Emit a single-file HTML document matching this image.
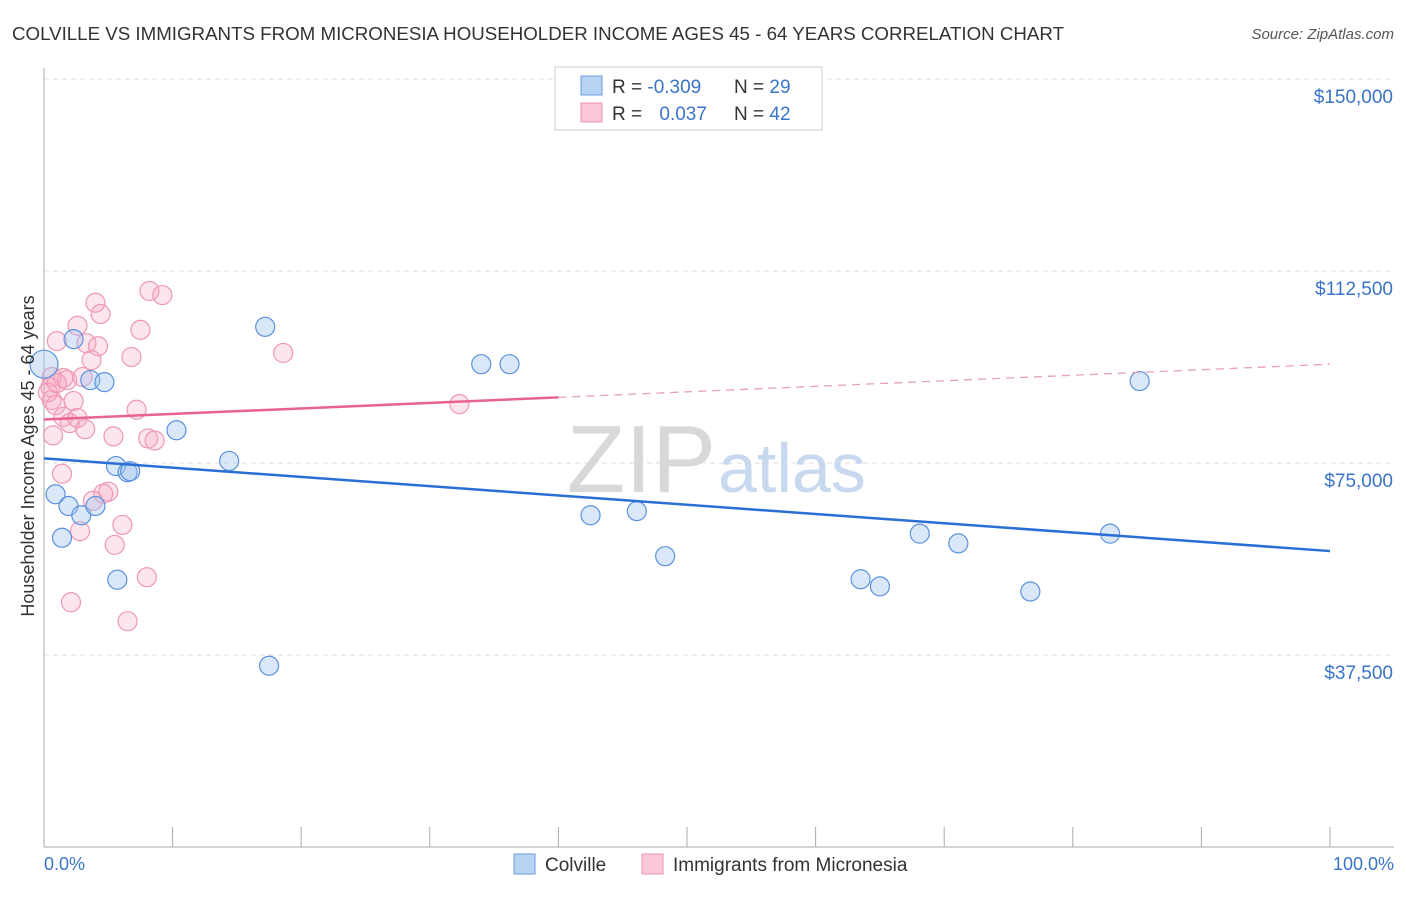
<!DOCTYPE html>
<html><head><meta charset="utf-8">
<style>
body{margin:0;background:#fff;font-family:"Liberation Sans",sans-serif;}
svg text{font-family:"Liberation Sans",sans-serif;}
</style></head>
<body>
<svg id="chart" width="1406" height="892" viewBox="0 0 1406 892" xmlns="http://www.w3.org/2000/svg">
<text x="12" y="40" font-size="18.5" fill="#333" textLength="1052" lengthAdjust="spacingAndGlyphs">COLVILLE VS IMMIGRANTS FROM MICRONESIA HOUSEHOLDER INCOME AGES 45 - 64 YEARS CORRELATION CHART</text>
<text x="1394" y="39" font-size="15" fill="#555" text-anchor="end" font-style="italic">Source: ZipAtlas.com</text>
<g id="grid"></g>
<text x="716" y="492" font-size="96" fill="#d8d8d8" font-family="Liberation Serif" text-anchor="end">ZIP</text>
<text x="718" y="492" font-size="70" fill="#c8d8ee">atlas</text>
<g id="axes"></g>
<g id="marks"></g>
<text transform="translate(34,456) rotate(-90)" font-size="18" fill="#333" text-anchor="middle">Householder Income Ages 45 - 64 years</text>
<text x="44" y="870" font-size="18" fill="#3a74c9">0.0%</text>
<text x="1394" y="870" font-size="18" fill="#3a74c9" text-anchor="end">100.0%</text>
<g>
<rect x="555" y="67" width="267" height="63" fill="#fff" stroke="#ccc"/>
<rect x="581" y="76" width="21" height="19" fill="#b9d3f3" stroke="#6a9de0"/>
<rect x="581" y="103" width="21" height="19" fill="#fbc8d7" stroke="#ee8fae"/>
<text x="612" y="93" font-size="19" fill="#333">R = <tspan fill="#3a74c9">-0.309</tspan></text>
<text x="734" y="93" font-size="19" fill="#333">N = <tspan fill="#3a74c9">29</tspan></text>
<text x="612" y="120" font-size="19" fill="#333">R = <tspan fill="#3a74c9" dx="12">0.037</tspan></text>
<text x="734" y="120" font-size="19" fill="#333">N = <tspan fill="#3a74c9">42</tspan></text>
</g>
<g>
<rect x="514" y="854" width="21" height="20" fill="#b9d3f3" stroke="#6a9de0"/>
<text x="545" y="871" font-size="19" fill="#333">Colville</text>
<rect x="642" y="854" width="21" height="20" fill="#fbc8d7" stroke="#ee8fae"/>
<text x="673" y="871" font-size="19" fill="#333">Immigrants from Micronesia</text>
</g>
</svg>
<script>
const yTicks=[37500,75000,112500,150000];
const yTickLabels=["$37,500","$75,000","$112,500","$150,000"];
const blueX=[0,2.3,3.6,4.7,10.3,17.2,14.4,5.6,6.5,6.7,0.9,1.9,2.9,4.0,1.4,5.7,17.5,34.0,36.2,42.5,46.1,48.3,63.5,65.0,68.1,71.1,76.7,82.9,85.2];
const blueY=[94300,99200,91200,90800,81400,101600,75400,74400,73200,73400,68900,66600,64800,66600,60400,52200,35400,94300,94300,64800,65600,56800,52300,50900,61200,59300,49900,61200,91000];
const pinkX=[8.2,9.2,4.0,4.4,2.6,7.5,1.0,3.3,4.2,3.7,6.8,18.6,0.6,1.5,1.8,3.0,0.5,0.6,0.9,2.3,1.5,2.0,2.6,3.2,7.2,0.7,5.4,8.1,8.6,1.4,5.0,4.6,3.8,6.1,2.8,5.5,8.0,2.1,6.5,32.3,0.3,1.0];
const pinkY=[108600,107800,106300,104100,101800,101000,98800,98400,97800,95100,95700,96500,91800,91600,91200,91800,89800,87300,86300,87100,84000,82800,83800,81600,85400,80400,80200,79800,79400,72900,69400,69000,67600,62900,61700,59000,52700,47800,44100,86500,88800,90600];
const blueTrend=[75900,57800];
const pinkTrend=[83500,94300];
const pinkSolidEnd=40;
const X0=44,X1=1330,Y0=847,YPX=192/37500;
const sx=v=>X0+(X1-X0)*v/100, sy=v=>Y0-v*YPX;
const NS="http://www.w3.org/2000/svg";
function mk(tag,attrs,parent){const e=document.createElementNS(NS,tag);for(const k in attrs)e.setAttribute(k,attrs[k]);document.getElementById(parent).appendChild(e);return e;}
yTicks.forEach((t,i)=>{
 const l=mk('line',{x1:44,x2:1394,y1:sy(t),y2:sy(t),stroke:'#ddd','stroke-dasharray':'5,4'},'grid');
 
 
 const tx=mk('text',{x:1393,y:sy(t)+24,'font-size':19,fill:'#3a74c9','text-anchor':'end'},'grid');
 tx.textContent=yTickLabels[i];
 
 
});
const ax=mk('line',{x1:44,x2:44,y1:68,y2:847,stroke:'#aaa'},'axes');


const bx=mk('line',{x1:44,x2:1394,y1:847,y2:847,stroke:'#aaa'},'axes');


for(let i=0;i<=10;i++){const t=mk('line',{x1:sx(i*10),x2:sx(i*10),y1:827,y2:847,stroke:'#aaa'},'axes');
 
 }
pinkX.forEach((x,i)=>{const c=mk('circle',{cx:sx(x),cy:sy(pinkY[i]),r:9.5,fill:'rgba(248,170,195,0.3)',stroke:'#ee98b3','stroke-width':1.2},'marks');
 
 });
blueX.forEach((x,i)=>{const c=mk('circle',{cx:sx(x),cy:sy(blueY[i]),r:i===0?14:9.5,fill:'rgba(160,195,240,0.4)',stroke:'#5c92dc','stroke-width':1.2},'marks');
 
 });
const pAt=p=>pinkTrend[0]+(pinkTrend[1]-pinkTrend[0])*p/100;
const ps=mk('line',{x1:sx(0),y1:sy(pAt(0)),x2:sx(pinkSolidEnd),y2:sy(pAt(pinkSolidEnd)),stroke:'#e8638e','stroke-width':2.5},'marks');


const pd=mk('line',{x1:sx(pinkSolidEnd),y1:sy(pAt(pinkSolidEnd)),x2:sx(100),y2:sy(pAt(100)),stroke:'#e8a0b8','stroke-width':1.3,'stroke-dasharray':'8,6'},'marks');


const bl=mk('line',{x1:sx(0),y1:sy(blueTrend[0]),x2:sx(100),y2:sy(blueTrend[1]),stroke:'#2a6fd6','stroke-width':2.5},'marks');


</script>
</body></html>
